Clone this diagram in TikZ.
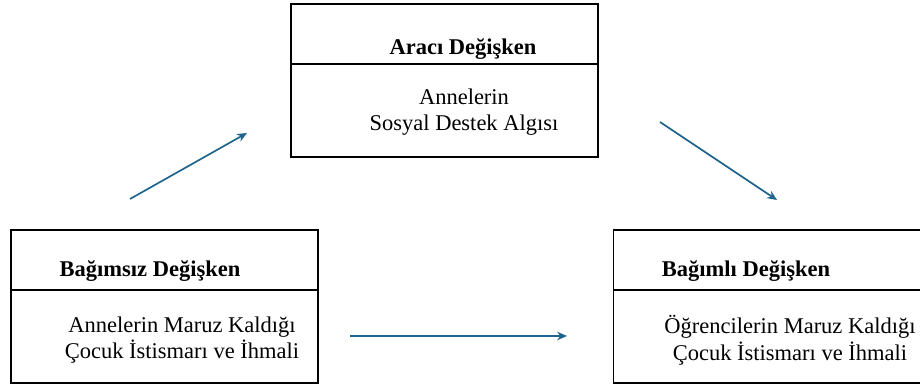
\documentclass[tikz,border=0pt]{standalone}
\usepackage{fontspec}
\setmainfont{Liberation Serif}
\usetikzlibrary{arrows.meta}
\definecolor{arrowblue}{RGB}{31,100,140}
\tikzset{
  varbox/.style={draw, line width=0.9pt, minimum width=7.675cm, minimum height=3.825cm, inner sep=0pt},
  vartitle/.style={font=\fontsize{16}{19}\selectfont\bfseries, inner sep=0pt},
  vartext/.style={font=\fontsize{16}{19}\selectfont, align=center, inner sep=0pt},
  effect/.style={draw=arrowblue, line width=1.2pt, -{Stealth[length=7pt,width=6pt]}}
}
\begin{document}
\begin{tikzpicture}
\useasboundingbox (0,0) rectangle (23,9.675);
\clip (0,0) rectangle (23,9.675);
% boxes
\node[varbox] (mediator) at (11.1125,7.6625) {};
\node[varbox] (independent) at (4.1125,2.0125) {};
\node[varbox, minimum width=8.2cm, anchor=west] (dependent) at (15.325,2.0125) {};
\draw[line width=0.9pt] (mediator.west |- 0,8.075) -- (mediator.east |- 0,8.075);
\draw[line width=0.9pt] (independent.west |- 0,2.425) -- (independent.east |- 0,2.425);
\draw[line width=0.9pt] (dependent.west |- 0,2.425) -- (dependent.east |- 0,2.425);
% labels
\node[vartitle] (mediatortitle) at (11.575,8.45) {Aracı Değişken};
\node[vartitle] (independenttitle) at (3.75,2.9) {Bağımsız Değişken};
\node[vartitle] (dependenttitle) at (18.65,2.9) {Bağımlı Değişken};
\node[vartext] (mediatortext) at (11.6,6.875) {Annelerin\\Sosyal Destek Algısı};
\node[vartext] (independenttext) at (4.55,1.175) {Annelerin Maruz Kaldığı\\Çocuk İstismarı ve İhmali};
\node[vartext] (dependenttext) at (19.75,1.175) {Öğrencilerin Maruz Kaldığı\\Çocuk İstismarı ve İhmali};
% arrows
\coordinate (a1s) at (3.25,4.7);
\coordinate (a1e) at (6.175,6.35);
\coordinate (a2s) at (16.5,6.625);
\coordinate (a2e) at (19.425,4.675);
\coordinate (a3s) at (8.75,1.275);
\coordinate (a3e) at (14.175,1.275);
\draw[effect] (a1s) -- (a1e);
\draw[effect] (a2s) -- (a2e);
\draw[effect] (a3s) -- (a3e);
\end{tikzpicture}
\end{document}
